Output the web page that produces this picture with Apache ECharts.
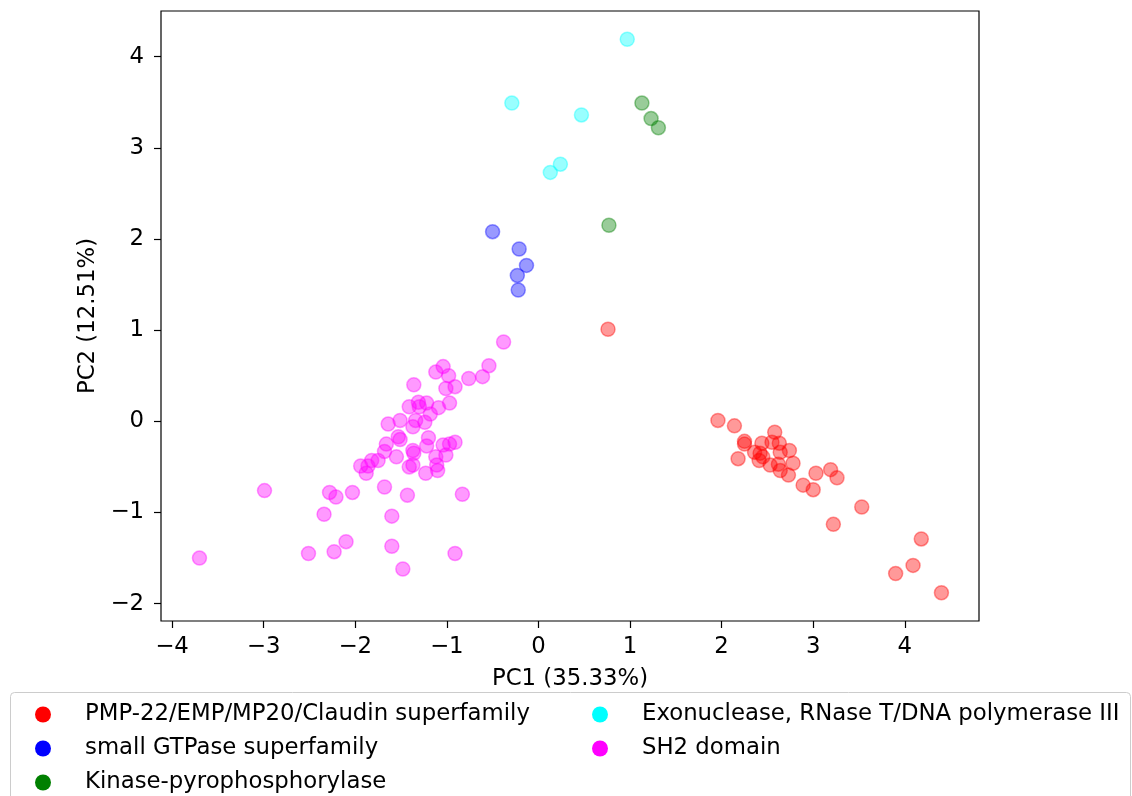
<!DOCTYPE html>
<html>
<head>
<meta charset="utf-8">
<script src="https://cdn.jsdelivr.net/npm/echarts@6/dist/echarts.min.js"></script>
<style>html,body{margin:0;padding:0;background:#fff;}#c{width:1132px;height:796px;}</style>
</head>
<body>
<div id="c"></div>
<script>
const seriesNames = ["PMP-22/EMP/MP20/Claudin superfamily","small GTPase superfamily","Kinase-pyrophosphorylase","Exonuclease, RNase T/DNA polymerase III","SH2 domain"];
const seriesColors = ["#ff0000","#0000ff","#008000","#00ffff","#ff00ff"];
const xTicks = [-4,-3,-2,-1,0,1,2,3,4];
const yTicks = [-2,-1,0,1,2,3,4];

const claudin = [[0.76,1.01],[1.96,0.01],[2.14,-0.05],[2.25,-0.22],[2.25,-0.25],[2.18,-0.41],[2.36,-0.34],[2.44,-0.24],[2.42,-0.35],[2.41,-0.43],[2.45,-0.39],[2.58,-0.12],[2.55,-0.23],[2.63,-0.24],[2.64,-0.34],[2.74,-0.32],[2.53,-0.48],[2.62,-0.47],[2.64,-0.54],[2.78,-0.46],[2.73,-0.59],[2.89,-0.70],[3.00,-0.75],[3.03,-0.57],[3.19,-0.53],[3.26,-0.62],[3.53,-0.94],[3.22,-1.13],[4.18,-1.29],[4.09,-1.58],[3.90,-1.67],[4.40,-1.88]];
const gtpase = [[-0.50,2.08],[-0.21,1.89],[-0.13,1.71],[-0.23,1.60],[-0.22,1.44]];
const kinase = [[1.13,3.49],[1.23,3.32],[1.31,3.22],[0.77,2.15]];
const exonuclease = [[0.97,4.19],[-0.29,3.49],[0.47,3.36],[0.24,2.82],[0.13,2.73]];
const sh2 = [[-0.38,0.87],[-0.54,0.61],[-1.04,0.60],[-1.12,0.54],[-0.98,0.50],[-0.76,0.47],[-0.61,0.49],[-1.36,0.40],[-0.91,0.38],[-1.01,0.36],[-0.97,0.20],[-1.09,0.15],[-1.31,0.21],[-1.22,0.20],[-1.30,0.16],[-1.41,0.16],[-1.18,0.08],[-1.24,-0.01],[-1.34,0.01],[-1.37,-0.06],[-1.51,0.01],[-1.64,-0.03],[-1.53,-0.17],[-1.51,-0.20],[-1.20,-0.18],[-1.22,-0.27],[-1.37,-0.32],[-1.36,-0.35],[-1.66,-0.25],[-1.68,-0.33],[-1.55,-0.39],[-1.75,-0.43],[-1.82,-0.43],[-1.86,-0.49],[-1.94,-0.49],[-1.88,-0.57],[-1.41,-0.50],[-1.37,-0.48],[-1.12,-0.39],[-1.11,-0.48],[-1.10,-0.54],[-1.23,-0.57],[-1.01,-0.37],[-1.04,-0.26],[-0.97,-0.25],[-0.91,-0.23],[-2.99,-0.76],[-2.28,-0.78],[-2.21,-0.83],[-2.03,-0.78],[-1.68,-0.72],[-1.43,-0.81],[-0.83,-0.80],[-2.34,-1.02],[-1.60,-1.04],[-2.10,-1.32],[-2.23,-1.43],[-2.51,-1.45],[-1.60,-1.37],[-0.91,-1.45],[-1.48,-1.62],[-3.70,-1.50]];

const allData = [claudin, gtpase, kinase, exonuclease, sh2];
const FONT = "DejaVu Sans";
const FS = 22.8;
const fmt = v => (v < 0 ? "\u2212" + Math.abs(v) : String(v));

const chart = echarts.init(document.getElementById('c'), null, {renderer:'canvas'});

const legendPos = [[35,703],[35,737],[35,771],[592,703],[592,737]];
const legends = seriesNames.map((n,i)=>({
  data:[n], left:legendPos[i][0], top:legendPos[i][1], orient:'horizontal', padding:0,
  icon:'circle', itemWidth:16, itemHeight:16, itemGap:10,
  itemStyle:{opacity:1, borderWidth:0},
  textStyle:{fontFamily:FONT, fontSize:FS, color:'#000', padding:[0,0,0,29]},
  selectedMode:false
}));

chart.setOption({
  animation:false,
  backgroundColor:'#fff',
  grid:{left:161, top:11, right:153, bottom:175, show:true, borderColor:'#000', borderWidth:1.2, backgroundColor:'transparent'},
  xAxis:{type:'value', min:-4.12, max:4.81,
    splitLine:{show:false},
    axisLine:{show:false, onZero:false},
    axisTick:{show:true, length:7, lineStyle:{color:'#000', width:1.2}, customValues:xTicks},
    axisLabel:{customValues:xTicks, formatter:fmt, fontFamily:FONT, fontSize:FS, color:'#000', margin:15},
    name:'PC1 (35.33%)', nameLocation:'middle', nameGap:47,
    nameTextStyle:{fontFamily:FONT, fontSize:FS, color:'#000'}
  },
  yAxis:{type:'value', min:-2.19, max:4.50,
    splitLine:{show:false},
    axisLine:{show:false, onZero:false},
    axisTick:{show:true, length:7, lineStyle:{color:'#000', width:1.2}, customValues:yTicks},
    axisLabel:{customValues:yTicks, formatter:fmt, fontFamily:FONT, fontSize:FS, color:'#000', margin:17},
    name:'PC2 (12.51%)', nameLocation:'middle', nameGap:59, nameRotate:90,
    nameTextStyle:{fontFamily:FONT, fontSize:FS, color:'#000'}
  },
  legend:legends,
  graphic:[{type:'rect', left:10, top:692, shape:{width:1120, height:130, r:4}, style:{fill:'#fff', stroke:'#cccccc', lineWidth:1}, z:-1}],
  series: seriesNames.map((n,i)=>({
    name:n, type:'scatter', data:allData[i], symbol:'circle', symbolSize:14,
    itemStyle:{color:seriesColors[i], opacity:0.4, borderColor:seriesColors[i], borderWidth:1.5}
  }))
});
</script>
</body>
</html>
